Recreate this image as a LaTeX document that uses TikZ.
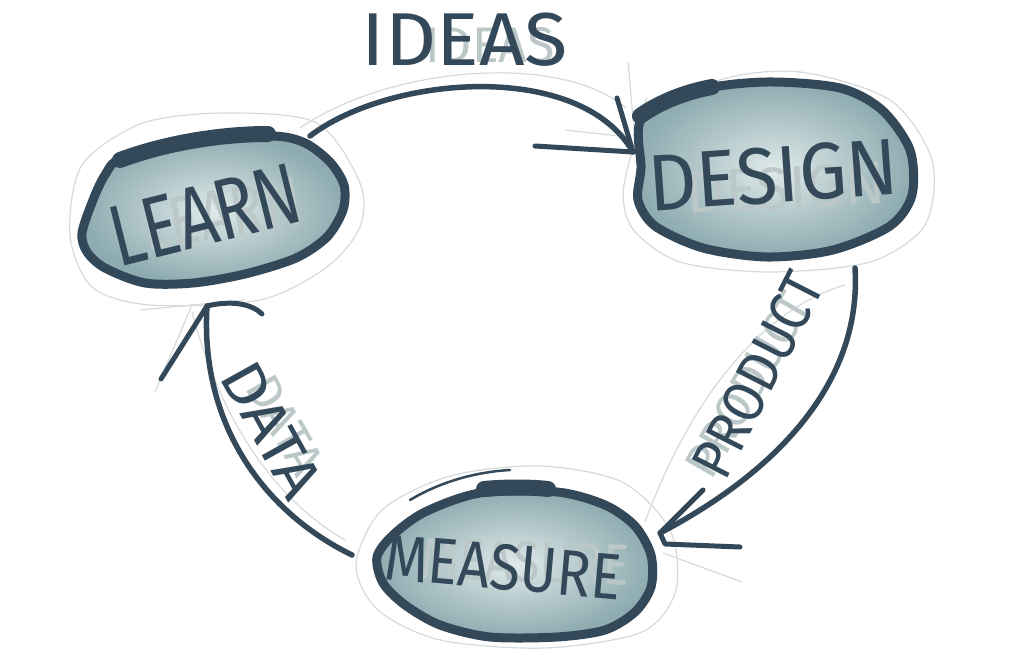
\documentclass[tikz,border=0pt]{standalone}
\usepackage{fontspec}
\newfontfamily\hand{Fira Sans}
\newcommand\wsize[1]{\hand\fontsize{#1}{#1}\selectfont}
\usetikzlibrary{calc}
\definecolor{ink}{HTML}{33495A}
\definecolor{pencil}{HTML}{D6DADA}
\definecolor{ghost}{HTML}{BCC7C8}
\definecolor{wash}{HTML}{8DABB0}
\definecolor{washlight}{HTML}{DFE9E9}
\begin{document}
\begin{tikzpicture}[x=1pt,y=-1pt,
  outline/.style={draw=ink, line width=9pt, inner color=washlight, outer color=wash},
  heavy/.style={draw=ink, line width=16pt, line cap=round},
  thinink/.style={draw=ink, line width=2.5pt, line cap=round},
  shaft/.style={draw=ink, line width=5.5pt, line cap=round},
  headstroke/.style={draw=ink, line width=5pt, line cap=round, line join=round},
  pencilline/.style={draw=pencil, line width=1.2pt},
  word/.style={text=ink, inner sep=0pt},
  ghostword/.style={text=ghost, inner sep=0pt},
]
\useasboundingbox (0,0) rectangle (1024,655);

% pencil guide loops
\draw[pencilline] plot[smooth cycle] coordinates {(70,235) (82,165) (143,123) (227,113) (317,123) (360,183) (360,227) (327,267) (260,300) (150,305) (92,287)};
\draw[pencilline] plot[smooth cycle] coordinates {(624,185) (648,122) (720,80) (800,72) (890,100) (932,160) (925,225) (870,262) (770,272) (680,262) (632,228)};
\draw[pencilline] plot[smooth cycle] coordinates {(356,565) (382,510) (450,476) (540,466) (622,482) (670,530) (676,590) (642,632) (545,648) (440,640) (378,610)};
\draw[pencilline] (300,128) .. controls (390,66) and (560,52) .. (626,108);
\draw[pencilline] (628,62) -- (634,128) -- (647,98);
\draw[pencilline] (565,130) -- (628,137);
\draw[pencilline] (645,522) .. controls (690,400) and (760,310) .. (845,285);
\draw[pencilline] (663,553) -- (742,582);
\draw[pencilline] (155,392) -- (192,305);
\draw[pencilline] (192,312) .. controls (215,400) and (262,492) .. (345,540);
\draw[pencilline] (140,310) -- (245,300);

% blobs
\path[outline] plot[smooth cycle] coordinates {(82,233) (93,200) (105,175) (122,158) (195,139) (273,136) (305,143) (330,162) (344,185) (343,210) (327,237) (296,258) (245,274) (193,283) (145,283) (105,268) (87,252)};
\path[outline] plot[smooth cycle] coordinates {(642,118) (700,90) (767,82) (840,88) (882,110) (910,150) (912,195) (890,226) (833,250) (767,257) (703,248) (655,226) (638,200) (641,168)};
\path[outline] plot[smooth cycle] coordinates {(480,493) (557,492) (605,505) (635,526) (651,555) (651,587) (635,612) (605,630) (557,637) (490,637) (440,625) (405,605) (383,583) (377,557) (393,535) (425,512)};

% heavy pen strokes along the tops
\draw[heavy] (120,160) .. controls (160,145) and (215,134) .. (268,134);
\draw[heavy] (640,116) .. controls (660,102) and (685,92) .. (712,87);
\draw[heavy] (484,489) .. controls (505,487) and (530,487) .. (548,489);
\draw[thinink] (410,500) .. controls (440,482) and (475,472) .. (510,470);

% faint pencil under-lettering
\node[ghostword, font=\wsize{70pt}, rotate=10, xscale=0.8] (learnghost) at (222,214) {LEARN};
\node[ghostword, font=\wsize{60pt}, rotate=3] (designghost) at (786,188) {DESIGN};
\node[ghostword, font=\wsize{58pt}, rotate=-2, xscale=0.85] (measureghost) at (525,562) {MEASURE};
\node[ghostword, font=\wsize{50pt}] (ideasghost) at (490,45) {IDEAS};
\node[ghostword, font=\wsize{48pt}, rotate=60] (productghost) at (748,385) {PRODUCT};
\node[ghostword, font=\wsize{48pt}, rotate=-60] (dataghost) at (285,425) {DATA};

% words
\node[word, font=\wsize{87pt}, rotate=14, xscale=0.77] (learn) at (205,215) {LEARN};
\node[word, font=\wsize{80pt}, rotate=4, xscale=0.94] (design) at (773,175) {DESIGN};
\node[word, font=\wsize{65pt}, rotate=-5, xscale=0.86] (measure) at (503,567) {MEASURE};
\node[word, font=\wsize{75pt}, xscale=1.06] (ideas) at (465,40) {IDEAS};
\node[word, font=\wsize{58pt}, rotate=63, xscale=0.9] (product) at (758,375) {PRODUCT};
\node[word, font=\wsize{60pt}, rotate=-61, xscale=1.1] (data) at (272,430) {DATA};

% connectors
\coordinate (ideasStart) at ($(learn)+(105,-79)$);
\coordinate (ideasTip) at ($(design)+(-140,-23)$);
\coordinate (productStart) at ($(design)+(82,93)$);
\coordinate (productTip) at ($(measure)+(157,-34)$);
\coordinate (dataStart) at ($(measure)+(-151,-12)$);
\coordinate (dataTip) at ($(learn)+(2,91)$);

\draw[shaft] (ideasStart) .. controls (390,75) and (580,60) .. (ideasTip);
\draw[headstroke] ($(ideasTip)+(-16,-54)$) -- (ideasTip) -- ($(ideasTip)+(-98,-6)$);

\draw[shaft] (productStart) .. controls (862,380) and (780,470) .. (productTip);
\draw[headstroke] ($(productTip)+(43,-43)$) -- (productTip) -- ($(productTip)+(5,11)$) -- ($(productTip)+(80,14)$);

\draw[shaft] (dataStart) .. controls (260,510) and (200,420) .. (dataTip);
\draw[headstroke] ($(dataTip)+(-46,73)$) -- (dataTip) .. controls ($(dataTip)+(25,-6)$) and ($(dataTip)+(45,-2)$) .. ($(dataTip)+(55,8)$);
\end{tikzpicture}
\end{document}
